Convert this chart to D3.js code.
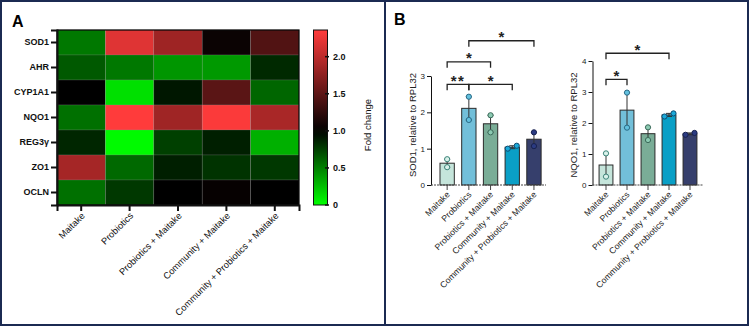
<!DOCTYPE html>
<html lang="en">
<head>
<meta charset="utf-8">
<title>Fold change heatmap and SOD1 / NQO1 bars</title>
<script src="https://cdn.jsdelivr.net/npm/d3@7"></script>
<style>
  body { margin: 0; background: #fff; }
  svg { display: block; font-family: "Liberation Sans", Arial, sans-serif; }
  .axis path, .axis line { stroke: #111; }
</style>
</head>
<body>
<script>
// ---- data ----
const heatGroups = ["Maitake", "Probiotics", "Probiotics + Maitake", "Community + Maitake", "Community + Probiotics + Maitake"];
const heatGenes = ["SOD1", "AHR", "CYP1A1", "NQO1", "REG3\u03b3", "ZO1", "OCLN"];
// fold change, one row per gene, columns follow heatGroups
const heatValues = [
  [0.53, 2.19, 1.84, 1.06, 1.43],
  [0.65, 0.53, 0.41, 0.40, 0.84],
  [1.00, 0.12, 0.91, 1.48, 0.60],
  [0.56, 2.36, 1.85, 2.34, 1.90],
  [0.85, 0.02, 0.75, 0.88, 0.31],
  [1.88, 0.59, 0.88, 0.80, 0.78],
  [0.56, 0.78, 1.00, 1.03, 1.00]
];
const foldTicks = [0, 0.5, 1.0, 1.5, 2.0];
const foldMax = 2.36;

const barGroups = ["Maitake", "Probiotics", "Probiotics + Maitake", "Community + Maitake", "Community + Probiotics + Maitake"];
// replicate values per group
const sod1Points = [[0.71, 0.49], [2.43, 1.79], [1.92, 1.45], [1.00, 1.08], [1.45, 1.07]];
const nqo1Points = [[1.02, 0.27], [2.98, 1.85], [1.86, 1.45], [2.21, 2.31], [1.62, 1.68]];
const sod1Ticks = [0, 1, 2, 3];
const nqo1Ticks = [0, 1, 2, 3, 4];
// [from group, to group, label, bracket height in axis units]
const sod1Comparisons = [[0, 1, "**", 2.77], [1, 3, "*", 2.77], [0, 2, "*", 3.39], [1, 4, "*", 3.97]];
const nqo1Comparisons = [[0, 1, "*", 3.41], [0, 3, "*", 4.25]];

// ---- styles ----
const barFill = ["#c5e5db", "#72bfd9", "#7aad97", "#0a9fc6", "#363f6c"];
const dotFill = ["#d9f1ea", "#62c0de", "#8ccab2", "#1ba9d8", "#2b3b82"];
const dotStroke = ["#3a8378", "#2a6a86", "#3b6a5a", "#0b4c72", "#18214f"];

const w = 750, h = 327;
const svg = d3.select("body").append("svg").attr("width", w).attr("height", h);

// panel frames
svg.append("rect").attr("x", 1).attr("y", 1).attr("width", w - 3).attr("height", h - 3)
  .attr("fill", "none").attr("stroke", "#1b2a52").attr("stroke-width", 2);
svg.append("line").attr("x1", 385).attr("x2", 385).attr("y1", 1).attr("y2", h - 2)
  .attr("stroke", "#1b2a52").attr("stroke-width", 2);

svg.append("text").attr("x", 12).attr("y", 27).attr("font-size", 16).attr("font-weight", "bold").text("A");
svg.append("text").attr("x", 394).attr("y", 25).attr("font-size", 16).attr("font-weight", "bold").text("B");

// ---- heatmap ----
const hx = d3.scaleBand(heatGroups, [57, 299]);
const hy = d3.scaleBand(heatGenes, [30, 205]);
const color = d3.scaleLinear().domain([0, 1, foldMax]).range(["#00ff00", "#000000", "#ff3b3b"]);

const cells = [];
heatValues.forEach((row, r) => row.forEach((v, c) => cells.push({ gene: heatGenes[r], group: heatGroups[c], v })));

svg.append("g").selectAll("rect").data(cells).join("rect")
  .attr("x", d => hx(d.group)).attr("y", d => hy(d.gene))
  .attr("width", hx.bandwidth()).attr("height", hy.bandwidth())
  .attr("fill", d => color(d.v))
  .attr("stroke", "rgba(150,150,150,0.35)").attr("stroke-width", 0.6);

svg.append("rect").attr("x", 57).attr("y", 30).attr("width", 242).attr("height", 175)
  .attr("fill", "none").attr("stroke", "#000").attr("stroke-width", 1.2);

const hLeft = svg.append("g").attr("class", "axis").attr("transform", "translate(57,0)")
  .call(d3.axisLeft(hy).tickSize(6).tickPadding(2));
hLeft.select(".domain").attr("stroke-width", 2);
hLeft.selectAll(".tick line").attr("stroke-width", 2);
hLeft.selectAll("text").attr("font-size", 9).attr("font-weight", "bold").attr("fill", "#111")
  .attr("font-family", "Liberation Sans, Arial, sans-serif");

const hBottom = svg.append("g").attr("class", "axis").attr("transform", "translate(0,205)")
  .call(d3.axisBottom(hx).tickSize(6).tickFormat(""));
hBottom.select(".domain").attr("stroke-width", 2);
hBottom.selectAll(".tick line").attr("stroke-width", 2);

svg.append("g").selectAll("text").data(heatGroups).join("text")
  .attr("transform", d => `translate(${hx(d) + hx.bandwidth() / 2 + 2},${214}) rotate(-45)`)
  .attr("text-anchor", "end").attr("dy", "0.35em")
  .attr("font-size", 9.3).attr("fill", "#111").text(d => d);

// colour bar
const cy = d3.scaleLinear([0, foldMax], [205, 30]);
const grad = svg.append("defs").append("linearGradient").attr("id", "foldGrad")
  .attr("x1", 0).attr("y1", 1).attr("x2", 0).attr("y2", 0);
d3.range(0, 1.0001, 0.05).forEach(t => {
  grad.append("stop").attr("offset", t).attr("stop-color", color(t * foldMax));
});
svg.append("rect").attr("x", 313.5).attr("y", 30).attr("width", 14).attr("height", 175)
  .attr("fill", "url(#foldGrad)").attr("stroke", "#111").attr("stroke-width", 1);
svg.append("g").selectAll("line").data(foldTicks).join("line")
  .attr("x1", 325).attr("x2", 329).attr("y1", d => cy(d)).attr("y2", d => cy(d))
  .attr("stroke", "#111").attr("stroke-width", 1.5);
svg.append("g").selectAll("text").data(foldTicks).join("text")
  .attr("x", 333).attr("y", d => cy(d)).attr("dy", "0.35em")
  .attr("font-size", 9).attr("font-weight", "bold").attr("fill", "#111")
  .text(d => d === 0 ? "0" : d3.format(".1f")(d));
svg.append("text").attr("transform", "translate(371,125) rotate(-90)")
  .attr("text-anchor", "middle").attr("font-size", 9.5).attr("fill", "#111").text("Fold change");

// ---- bar charts ----
function barChart(cfg) {
  const x = d3.scaleBand(barGroups, cfg.xRange).paddingInner(0.34).paddingOuter(0.17);
  const y = d3.scaleLinear([0, cfg.yMax], [185, cfg.yTop]);
  const g = svg.append("g");
  const stats = cfg.points.map((p, i) => {
    const m = d3.mean(p);
    const sem = d3.deviation(p) / Math.sqrt(p.length);
    return { i, group: barGroups[i], mean: m, sem, pts: p };
  });

  g.selectAll("rect.bar").data(stats).join("rect").attr("class", "bar")
    .attr("x", d => x(d.group)).attr("width", x.bandwidth())
    .attr("y", d => y(d.mean)).attr("height", d => y(0) - y(d.mean))
    .attr("fill", d => barFill[d.i]).attr("stroke", "#2a2a2a").attr("stroke-width", 1);

  // error bars
  stats.forEach(d => {
    const cx = x(d.group) + x.bandwidth() / 2;
    g.append("line").attr("x1", cx).attr("x2", cx)
      .attr("y1", y(d.mean - d.sem)).attr("y2", y(d.mean + d.sem))
      .attr("stroke", "#333").attr("stroke-width", 1);
    [d.mean - d.sem, d.mean + d.sem].forEach(v => {
      g.append("line").attr("x1", cx - 3).attr("x2", cx + 3).attr("y1", y(v)).attr("y2", y(v))
        .attr("stroke", "#333").attr("stroke-width", 1);
    });
  });

  // replicate points, spread apart when they would overlap
  stats.forEach(d => {
    const cx = x(d.group) + x.bandwidth() / 2;
    const close = Math.abs(y(d.pts[0]) - y(d.pts[1])) < 6;
    d.pts.forEach((v, k) => {
      const off = close ? (k === 0 ? -4.5 : 4.5) * (d.pts[0] <= d.pts[1] ? 1 : -1) : 0;
      g.append("circle").attr("cx", cx + off).attr("cy", y(v)).attr("r", 2.6)
        .attr("fill", dotFill[d.i]).attr("stroke", dotStroke[d.i]).attr("stroke-width", 1);
    });
  });

  // axes
  const ya = g.append("g").attr("class", "axis").attr("transform", `translate(${cfg.axisX},0)`)
    .call(d3.axisLeft(y).tickValues(cfg.ticks).tickFormat(d3.format("d")).tickSize(4).tickPadding(2).tickSizeOuter(0));
  ya.select(".domain").attr("stroke", "#444");
  ya.selectAll(".tick line").attr("stroke", "#444");
  ya.selectAll("text").attr("font-size", 8).attr("fill", "#222").attr("font-family", "Liberation Sans, Arial, sans-serif");

  g.append("line").attr("x1", cfg.axisX).attr("x2", cfg.baseEnd).attr("y1", y(0)).attr("y2", y(0))
    .attr("stroke", "#444").attr("stroke-width", 1.2).attr("stroke-dasharray", "2,1");
  g.selectAll("line.xt").data(barGroups).join("line").attr("class", "xt")
    .attr("x1", d => x(d) + x.bandwidth() / 2).attr("x2", d => x(d) + x.bandwidth() / 2)
    .attr("y1", y(0)).attr("y2", y(0) + 5).attr("stroke", "#444");
  g.selectAll("text.xl").data(barGroups).join("text").attr("class", "xl")
    .attr("transform", d => `translate(${x(d) + x.bandwidth() / 2 + 1},${193}) rotate(-45)`)
    .attr("text-anchor", "end").attr("dy", "0.35em")
    .attr("font-size", 8.7).attr("fill", "#222").text(d => d);

  g.append("text").attr("transform", `translate(${cfg.labelX},125) rotate(-90)`)
    .attr("text-anchor", "middle").attr("font-size", 9.5).attr("fill", "#222").text(cfg.label);

  // significance brackets
  cfg.comparisons.forEach(([a, b, lab, lev]) => {
    const xa = x(barGroups[a]) + x.bandwidth() / 2;
    const xb = x(barGroups[b]) + x.bandwidth() / 2;
    const yy = y(lev);
    g.append("path").attr("d", `M${xa},${yy + 6}V${yy}H${xb}V${yy + 6}`)
      .attr("fill", "none").attr("stroke", "#222").attr("stroke-width", 1.3);
    g.append("text").attr("x", (xa + xb) / 2).attr("y", yy + 1.5)
      .attr("text-anchor", "middle").attr("font-size", 15).attr("font-weight", "bold")
      .attr("letter-spacing", lab.length > 1 ? 1.5 : 0).attr("fill", "#222").text(lab);
  });
}

barChart({
  points: sod1Points, ticks: sod1Ticks, yMax: 3, yTop: 76, comparisons: sod1Comparisons,
  xRange: [436.3, 544.8], axisX: 431, baseEnd: 546, labelX: 416, label: "SOD1, relative to RPL32"
});
barChart({
  points: nqo1Points, ticks: nqo1Ticks, yMax: 4, yTop: 61, comparisons: nqo1Comparisons,
  xRange: [595.5, 700.5], axisX: 592.5, baseEnd: 703, labelX: 577, label: "NQO1, relative to RPL32"
});
</script>
</body>
</html>
